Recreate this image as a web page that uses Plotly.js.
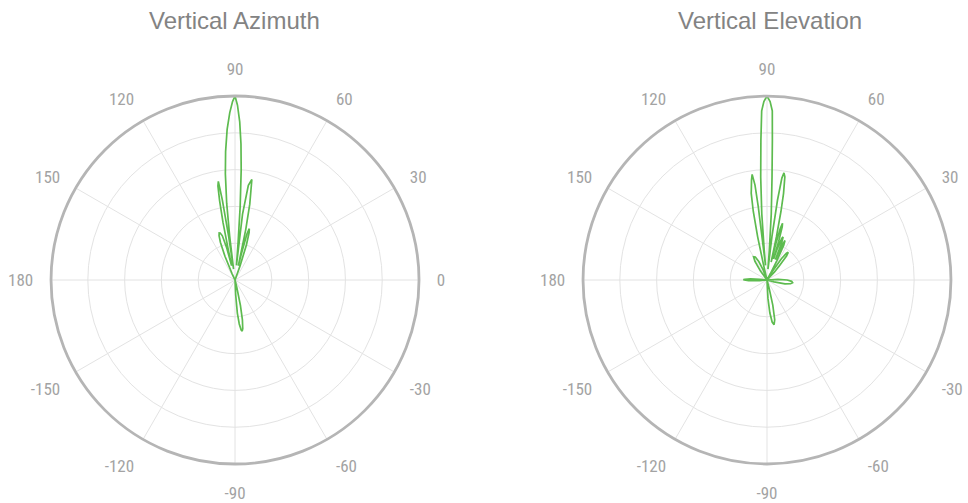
<!DOCTYPE html>
<html>
<head>
<meta charset="utf-8">
<script src="https://cdn.plot.ly/plotly-3.0.1.min.js"></script>
<style>html,body{margin:0;padding:0;background:#fff;}#chart{width:968px;height:503px;}</style>
</head>
<body>
<div id="chart"></div>
<script>
// Angle tick labels (degrees)
const tickAngles = [0, 30, 60, 90, 120, 150, 180, 210, 240, 270, 300, 330];
const tickLabels = ['0', '30', '60', '90', '120', '150', '180', '-150', '-120', '-90', '-60', '-30'];

// Vertical Azimuth pattern: angle (deg) and relative gain (dB)
const azTheta = [-180, -120, -95, -89, -87.5, -86, -84.5, -83, -82, -81, -79.5, -78, -76.5, -75, -30, 0, 30, 68,
  70.5, 72, 73.5, 74.5, 75.5, 76.3, 77, 78, 79, 80.5, 82, 83.5, 84.5, 85.3, 86, 86.8, 87.5, 88.3, 89.2, 90,
  90.8, 91.8, 93, 94.2, 95.2, 96.2, 97, 97.7, 98.3, 99, 99.6, 100.3, 101, 101.8, 102.6, 103.4, 104.5, 106,
  107.5, 108.6, 109.8, 111.2, 113, 115, 120, 150, 180];
const azGain = [-50, -50, -50, -50, -46, -41, -38, -36.3, -36, -36.6, -39, -43, -48, -50, -50, -50, -50, -50,
  -46, -40, -36.5, -35.5, -37, -42, -46, -36, -29, -22.3, -24, -32, -46, -40, -30, -20, -13, -7, -2.5, 0,
  -1.5, -4.5, -9, -15, -21, -29, -38, -47, -38, -28, -22.8, -24, -28, -34, -42, -46, -41, -37.5,
  -36.6, -36.5, -37.2, -39, -43, -48, -50, -50, -50];

// Vertical Elevation pattern: angle (deg) and relative gain (dB)
const elTheta = [-180, -178, -176, -174, -120, -90, -88.5, -87, -85, -83, -81, -79, -77, -75, -73, -40, -17,
  -15, -12, -9, -6, -3, 0, 3, 5, 30, 45, 47, 49, 51, 52.5, 54, 56, 58, 60, 62, 63, 64.3, 65.5, 66.8, 67.6,
  68.5, 69.5, 70.5, 71.8, 72.6, 73.2, 74, 74.7, 75.5, 76.3, 77, 77.7, 78.5, 79.2, 80.2, 81, 81.7, 82.5, 83.5,
  84.3, 85, 85.5, 86.3, 87.2, 87.8, 88.2, 89, 90, 91, 91.8, 92.5, 93.5, 94.5, 95.3, 95.8, 96.8, 97.2, 98,
  98.8, 99.8, 100.3, 101.3, 102.2, 103, 108, 111, 114, 117, 120, 123, 126, 129, 172, 174, 176, 178, 179, 180];
const elGain = [-43.8, -45, -48, -50, -50, -50, -50, -45, -41, -38.5, -37.7, -39, -43, -48, -50, -50, -50,
  -48, -45, -43.5, -43, -43.3, -44.5, -47, -50, -50, -50, -47, -45, -41.5, -40.5, -41, -43, -47, -50, -48, -44, -39.5, -38.2, -40, -44,
  -39, -37.5, -38, -41, -44, -39, -35, -34, -35.5, -40, -45, -38, -31, -26, -21.5, -20.5, -22, -28, -38,
  -46, -47, -42, -32, -22, -12, -4, -1.5, 0, -1.5, -4, -12, -22, -32, -42, -46, -30, -24, -21,
  -22.5, -25, -26, -31, -38, -46, -50, -47, -44.5, -43, -42.7, -44, -47, -50, -50, -48, -45.5, -44, -43.6, -43.8];

const lineColor = '#5dbb4f';
const gridColor = '#e3e3e3';
const tickFont = {family: 'Liberation Sans Narrow, Roboto Condensed, Arial Narrow, sans-serif', size: 17, color: '#a3a3a3'};
const titleFont = {family: 'Liberation Sans, Arial, sans-serif', size: 24, color: '#838383'};

function polarLayout(xDomain) {
  return {
    domain: {x: xDomain, y: [0.0775, 0.8091]},
    bgcolor: '#ffffff',
    radialaxis: {
      range: [-50, 0], dtick: 10, tick0: -50,
      showticklabels: false, ticks: '', showline: false,
      gridcolor: gridColor, gridwidth: 1
    },
    angularaxis: {
      tickmode: 'array', tickvals: tickAngles, ticktext: tickLabels,
      ticks: 'outside', ticklen: 13, tickcolor: 'rgba(0,0,0,0)',
      tickfont: tickFont,
      gridcolor: gridColor, gridwidth: 1,
      showline: true, linecolor: '#b5b5b5', linewidth: 2.8,
      rotation: 0, direction: 'counterclockwise'
    }
  };
}

const traces = [
  {type: 'scatterpolar', mode: 'lines', theta: azTheta, r: azGain, subplot: 'polar',
   line: {color: lineColor, width: 1.7}, showlegend: false, hoverinfo: 'skip'},
  {type: 'scatterpolar', mode: 'lines', theta: elTheta, r: elGain, subplot: 'polar2',
   line: {color: lineColor, width: 1.7}, showlegend: false, hoverinfo: 'skip'}
];

const layout = {
  width: 968, height: 503,
  margin: {l: 0, r: 0, t: 0, b: 0},
  paper_bgcolor: '#ffffff',
  showlegend: false,
  polar: polarLayout([0.0527, 0.4329]),
  polar2: polarLayout([0.6023, 0.9824]),
  annotations: [
    {text: 'Vertical Azimuth', x: 234 / 968, y: 1 - 21 / 503, xref: 'paper', yref: 'paper',
     showarrow: false, xanchor: 'center', yanchor: 'middle', font: titleFont},
    {text: 'Vertical Elevation', x: 770 / 968, y: 1 - 21 / 503, xref: 'paper', yref: 'paper',
     showarrow: false, xanchor: 'center', yanchor: 'middle', font: titleFont}
  ]
};

Plotly.newPlot('chart', traces, layout, {staticPlot: true, displayModeBar: false});
</script>
</body>
</html>
